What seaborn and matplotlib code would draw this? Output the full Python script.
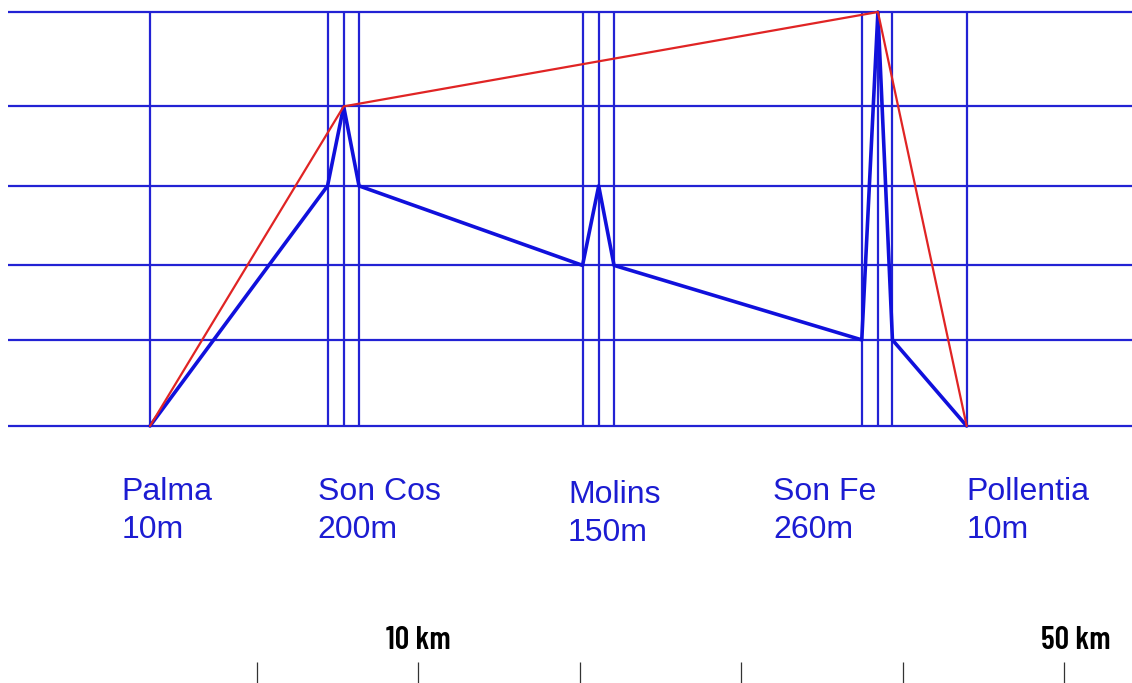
import matplotlib
matplotlib.use("Agg")
import matplotlib.pyplot as plt
import seaborn as sns
import pandas as pd

# ---- data (distance in km from Palma, elevation levels in m) ----
grid_levels = [10, 62, 107, 155, 203, 260]
profile_km = [0, 11.0, 12.0, 12.95, 26.8, 27.8, 28.75, 44.1, 45.1, 46.0, 50.6]
profile_elev = [10, 155, 203, 155, 107, 155, 107, 62, 260, 62, 10]
summit_km = [0, 12.0, 45.1, 50.6]
summit_elev = [10, 203, 260, 10]
places = ["Palma", "Son Cos", "Molins", "Son Fe", "Pollentia"]
place_heights = ["10m", "200m", "150m", "260m", "10m"]
place_label_km = [-1.75, 10.4, 25.9, 38.6, 50.6]
scale_km = [0, 10, 20, 30, 40, 50]
scale_labels = {10: "10 km", 50: "50 km"}

sns.set_theme(style="white")
plt.rcParams["font.family"] = ["Liberation Sans", "DejaVu Sans"]

fig = plt.figure(figsize=(11.32, 6.83), dpi=100)
ax = fig.add_axes([0, 0, 1, 1])

px_per_km = 16.14
px_per_m = 1.656
x0_px = 150
base_px = 426
ax.set_xlim(-x0_px / px_per_km, (1132 - x0_px) / px_per_km)
ax.set_ylim(10 - (683 - base_px) / px_per_m, 10 + base_px / px_per_m)
ax.axis("off")

grid_blue = "#2222d4"
ax.hlines(grid_levels, -8.8, 70, color=grid_blue, lw=1.6, zorder=1)
ax.vlines(profile_km, grid_levels[0], grid_levels[-1], color=grid_blue, lw=1.6, zorder=1)

df_prof = pd.DataFrame({"km": profile_km, "elev": profile_elev})
df_sum = pd.DataFrame({"km": summit_km, "elev": summit_elev})
sns.lineplot(data=df_sum, x="km", y="elev", sort=False, color="#e02424", lw=1.6, ax=ax, zorder=3)
sns.lineplot(data=df_prof, x="km", y="elev", sort=False, color="#1010dc", lw=2.6, ax=ax, zorder=2)
ax.set_xlabel("")
ax.set_ylabel("")

text_blue = "#1c1cd2"
for i, (name, h, xk) in enumerate(zip(places, place_heights, place_label_km)):
    dy = -1.8 if name == "Molins" else 0
    ax.text(xk, -34.7 + dy, name, color=text_blue, fontsize=23, ha="left", va="baseline")
    ax.text(xk, -57.6 + dy, h, color=text_blue, fontsize=23, ha="left", va="baseline")

# scale bar
scale_origin = 6.63
tick_pos = [scale_origin + k for k in scale_km]
ax.vlines(tick_pos, 10 - (683 - base_px) / px_per_m, 10 - (662 - base_px) / px_per_m,
          color="#333333", lw=0.9)
for k, lab in scale_labels.items():
    xoff = 0.7 if k == 50 else 0.0
    ax.text(scale_origin + k + xoff, 10 - (649 - base_px) / px_per_m, lab, color="black",
            fontsize=23, ha="center", va="baseline", fontweight=600,
            family=["Barlow Condensed", "Liberation Sans"])

fig.savefig("out.png", dpi=100, facecolor="white")
